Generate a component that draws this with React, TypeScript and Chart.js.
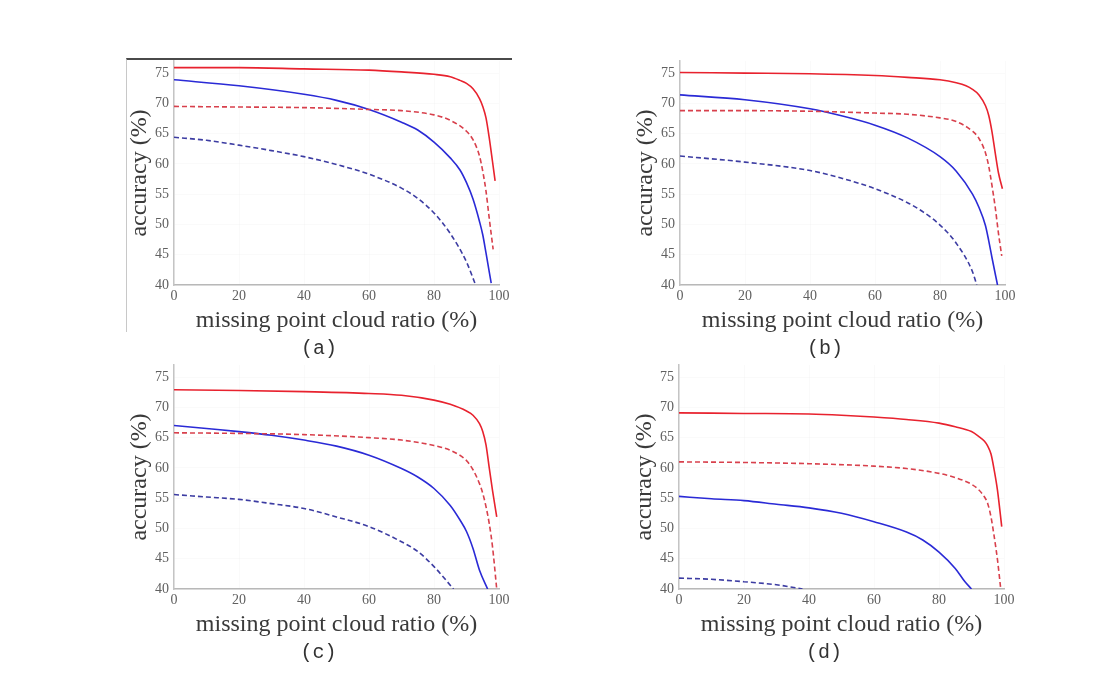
import React, { useEffect, useRef } from "react";
import { Chart, registerables } from "chart.js";

Chart.register(...registerables);

type Pt = [number, number];

// ---- axis / text content ----
const X_TITLE = "missing point cloud ratio (%)";
const Y_TITLE = "accuracy (%)";
const X_MIN = 0;
const X_MAX = 100;
const X_STEP = 20;
const Y_MIN = 40;
const Y_MAX = 77;
const Y_STEP = 5;

// ---- (a) ----
const aRedSolid: Pt[] = [[0, 75.9], [20, 75.9], [40, 75.7], [60, 75.5], [70, 75.2], [80, 74.8], [85, 74.4], [88, 73.8], [90, 73.3], [92, 72.4], [94, 70.8], [95, 69.5], [96, 67.6], [97, 64.3], [98, 60.4], [98.8, 57.2]];
const aRedDashed: Pt[] = [[0, 69.5], [20, 69.4], [40, 69.3], [60, 69.0], [70, 68.8], [80, 68.1], [85, 67.2], [90, 65.4], [92, 64.0], [94, 61.3], [95, 58.8], [96, 55.5], [97, 51.0], [98.2, 45.9]];
const aBlueSolid: Pt[] = [[0, 73.9], [20, 72.9], [40, 71.5], [50, 70.5], [60, 69.0], [70, 66.9], [75, 65.6], [80, 63.6], [85, 61.0], [88, 59.0], [90, 56.9], [92, 54.2], [94, 50.5], [95, 48.3], [96, 45.3], [97.6, 40.3]];
const aBlueDashed: Pt[] = [[0, 64.4], [10, 63.9], [20, 63.1], [30, 62.2], [40, 61.2], [50, 59.9], [60, 58.3], [70, 56.0], [75, 54.3], [80, 51.9], [85, 48.5], [90, 43.8], [92.8, 40]];

// ---- (b) ----
const bRedSolid: Pt[] = [[0, 75.1], [20, 75.0], [40, 74.9], [60, 74.6], [70, 74.3], [80, 73.9], [85, 73.4], [88, 72.9], [90, 72.3], [92, 71.4], [94, 69.6], [95, 68.0], [96, 65.3], [97, 61.8], [98, 58.5], [99.2, 55.9]];
const bRedDashed: Pt[] = [[0, 68.8], [20, 68.8], [40, 68.7], [60, 68.4], [70, 68.2], [80, 67.6], [85, 67.0], [90, 65.4], [92, 64.2], [94, 61.8], [95, 59.6], [96, 56.4], [97, 52.8], [98, 48.5], [99, 44.8]];
const bBlueSolid: Pt[] = [[0, 71.4], [20, 70.6], [40, 69.1], [50, 67.9], [60, 66.4], [70, 64.3], [80, 61.2], [85, 58.8], [90, 55.0], [92, 52.8], [94, 49.8], [95, 47.3], [96, 44.5], [97.7, 40]];
const bBlueDashed: Pt[] = [[0, 61.3], [20, 60.3], [40, 58.9], [50, 57.6], [60, 55.9], [70, 53.6], [75, 52.0], [80, 49.9], [85, 46.9], [90, 42.2], [91.3, 40]];

// ---- (c) ----
const cRedSolid: Pt[] = [[0, 72.9], [20, 72.8], [40, 72.6], [60, 72.3], [70, 72.0], [80, 71.2], [85, 70.5], [90, 69.4], [92, 68.7], [94, 67.3], [95, 66.0], [96, 63.8], [97, 60.0], [98, 56.3], [99.3, 51.9]];
const cRedDashed: Pt[] = [[0, 65.8], [20, 65.7], [40, 65.5], [60, 65.0], [70, 64.6], [80, 63.7], [85, 62.9], [90, 61.2], [92, 59.7], [94, 57.4], [95, 55.8], [96, 53.6], [97, 50.8], [98, 47.0], [99.3, 40]];
const cBlueSolid: Pt[] = [[0, 67.0], [10, 66.5], [20, 66.0], [30, 65.4], [40, 64.6], [50, 63.6], [60, 62.1], [70, 59.9], [75, 58.5], [80, 56.6], [85, 53.8], [88, 51.4], [90, 49.5], [92, 46.7], [94, 43.1], [96.5, 40]];
const cBlueDashed: Pt[] = [[0, 55.6], [10, 55.2], [20, 54.8], [30, 54.1], [40, 53.3], [50, 51.9], [60, 50.3], [70, 47.8], [75, 46.2], [80, 43.7], [86, 40]];

// ---- (d) ----
const dRedSolid: Pt[] = [[0, 69.1], [20, 69.0], [40, 68.9], [50, 68.7], [60, 68.4], [70, 68.0], [80, 67.4], [85, 66.8], [90, 66.0], [92, 65.3], [94, 64.4], [95, 63.6], [96, 62.3], [97, 59.6], [98, 56.3], [99.3, 50.3]];
const dRedDashed: Pt[] = [[0, 61.0], [20, 60.9], [40, 60.7], [60, 60.3], [70, 59.9], [80, 59.1], [85, 58.4], [90, 57.3], [92, 56.5], [94, 55.2], [95, 54.1], [96, 51.9], [97, 48.6], [98, 44.8], [99, 40]];
const dBlueSolid: Pt[] = [[0, 55.3], [10, 54.9], [20, 54.6], [30, 54.0], [40, 53.4], [50, 52.5], [60, 51.1], [70, 49.4], [75, 48.1], [80, 46.1], [85, 43.4], [88, 41.2], [90, 40]];
const dBlueDashed: Pt[] = [[0, 41.8], [10, 41.6], [20, 41.2], [30, 40.7], [38, 40]];

const PANEL_LABELS = ["(a)", "(b)", "(c)", "(d)"];
const PANEL_SERIES: Pt[][][] = [
  [aRedSolid, aRedDashed, aBlueSolid, aBlueDashed],
  [bRedSolid, bRedDashed, bBlueSolid, bBlueDashed],
  [cRedSolid, cRedDashed, cBlueSolid, cBlueDashed],
  [dRedSolid, dRedDashed, dBlueSolid, dBlueDashed],
];

// ---- styling / layout ----
const SERIES_STYLE = [
  { color: "#e8222e", dash: [] as number[] },
  { color: "#d8404c", dash: [5, 3] },
  { color: "#2a2ad6", dash: [] as number[] },
  { color: "#3c3ca2", dash: [5, 3] },
];
const PANEL_POS = [
  { left: 174, top: 60.5 },
  { left: 680, top: 60.5 },
  { left: 173.5, top: 365 },
  { left: 679, top: 365 },
];
const AREA_W = 325;
const AREA_H = 224;
const PAD_L = 60;
const PAD_T = 15;
const CANVAS_W = 400;
const CANVAS_H = 310;

function Panel({ series, left, top }: { series: Pt[][]; left: number; top: number }) {
  const ref = useRef<HTMLCanvasElement>(null);
  useEffect(() => {
    const tickFont = { family: "'Liberation Serif', 'Times New Roman', serif", size: 14 };
    const titleFont = { family: "'Liberation Serif', 'Times New Roman', serif", size: 24, lineHeight: 1.2 };
    const chart = new Chart(ref.current as HTMLCanvasElement, {
      type: "line",
      data: {
        datasets: series.map((s, i) => ({
          data: s.map(([x, y]) => ({ x, y })),
          borderColor: SERIES_STYLE[i].color,
          borderDash: SERIES_STYLE[i].dash,
          borderWidth: 1.6,
          pointRadius: 0,
          fill: false,
          cubicInterpolationMode: "monotone" as const,
        })),
      },
      options: {
        responsive: false,
        animation: false,
        events: [],
        layout: { padding: { left: 0, top: PAD_T, right: CANVAS_W - PAD_L - AREA_W, bottom: 0 } },
        plugins: { legend: { display: false }, tooltip: { enabled: false } },
        scales: {
          x: {
            type: "linear",
            min: X_MIN,
            max: X_MAX,
            afterFit: (s: any) => {
              s.height = CANVAS_H - PAD_T - AREA_H;
            },
            ticks: { stepSize: X_STEP, padding: 3, color: "#606060", font: tickFont, maxRotation: 0 },
            grid: { display: true, drawTicks: false, color: "rgba(0,0,0,0.018)" },
            border: { display: true, color: "#b8b8b8", width: 1.5 },
            title: {
              display: true,
              text: X_TITLE,
              color: "#3a3a3a",
              font: titleFont,
              padding: { top: 0, bottom: 21 },
            },
          },
          y: {
            type: "linear",
            min: Y_MIN,
            max: Y_MAX,
            afterFit: (s: any) => {
              s.width = PAD_L;
            },
            ticks: { stepSize: Y_STEP, includeBounds: false, padding: 5, color: "#606060", font: tickFont },
            grid: { display: true, drawTicks: false, color: "rgba(0,0,0,0.018)" },
            border: { display: true, color: "#c4c4c4", width: 1.5 },
            title: {
              display: true,
              text: Y_TITLE,
              color: "#3a3a3a",
              font: titleFont,
              padding: { top: 11, bottom: 0 },
            },
          },
        },
      } as any,
    });
    return () => chart.destroy();
  }, [series]);
  return (
    <canvas
      ref={ref}
      width={CANVAS_W}
      height={CANVAS_H}
      style={{ position: "absolute", left: left - PAD_L, top: top - PAD_T, width: CANVAS_W, height: CANVAS_H }}
    />
  );
}

export default function App() {
  return (
    <div style={{ position: "absolute", left: 0, top: 0, width: 1107, height: 681, background: "#ffffff", overflow: "hidden" }}>
      <div
        style={{
          position: "absolute",
          left: 126,
          top: 58,
          width: 385,
          height: 272,
          borderTop: "2px solid #4a4a4a",
          borderLeft: "1px solid #c8c8c8",
        }}
      />
      {PANEL_SERIES.map((s, i) => (
        <Panel key={i} series={s} left={PANEL_POS[i].left} top={PANEL_POS[i].top} />
      ))}
      {PANEL_LABELS.map((lab, i) => (
        <div
          key={lab}
          style={{
            position: "absolute",
            left: PANEL_POS[i].left + 145,
            top: PANEL_POS[i].top + AREA_H + 64,
            transform: "translate(-50%, -50%)",
            fontFamily: "'Liberation Mono', monospace",
            fontSize: 20,
            color: "#333",
            lineHeight: 1,
            whiteSpace: "nowrap",
          }}
        >
          {lab}
        </div>
      ))}
    </div>
  );
}
